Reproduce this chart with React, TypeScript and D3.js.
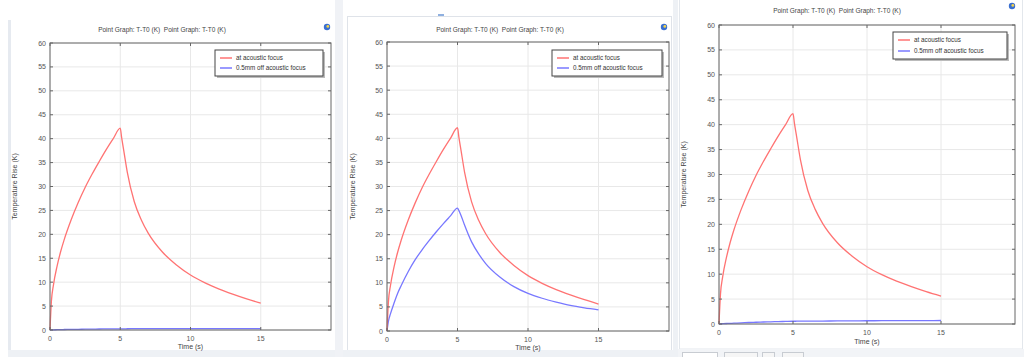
import React from "react";
import * as d3 from "d3";

// Sample times (s) shared by the temperature series
const timeS = [0, 0.1, 0.25, 0.5, 0.75, 1, 1.5, 2, 2.5, 3, 3.5, 4, 4.5, 5, 5.1, 5.25, 5.5, 6, 6.5, 7, 8, 9, 10, 11, 12, 13, 14, 15];

// Temperature rise at the acoustic focus (K)
const atFocus = [0, 6, 9.5, 13.3, 16.3, 18.8, 23, 26.6, 29.8, 32.6, 35.2, 37.7, 40, 42.2, 40.2, 37.5, 33, 26.8, 23, 20.2, 16.3, 13.6, 11.5, 9.9, 8.6, 7.5, 6.5, 5.6];

// Temperature rise 0.5 mm off the focus (K), one run per graph
const offFocusA = [0, 0.02, 0.04, 0.06, 0.08, 0.1, 0.12, 0.15, 0.17, 0.19, 0.21, 0.23, 0.24, 0.25, 0.25, 0.25, 0.26, 0.27, 0.27, 0.28, 0.29, 0.3, 0.3, 0.3, 0.3, 0.3, 0.3, 0.3];
const offFocusB = [0, 2, 3.6, 5.8, 7.8, 9.4, 12.3, 14.8, 16.9, 18.8, 20.6, 22.3, 23.9, 25.5, 25, 24, 22, 18.5, 16, 14, 11.2, 9.2, 7.8, 6.8, 6, 5.3, 4.8, 4.4];
const offFocusC = [0, 0.03, 0.06, 0.1, 0.13, 0.16, 0.22, 0.3, 0.35, 0.4, 0.44, 0.48, 0.52, 0.55, 0.55, 0.56, 0.56, 0.57, 0.58, 0.59, 0.61, 0.63, 0.65, 0.66, 0.67, 0.68, 0.69, 0.7];

const xTicks = [0, 5, 10, 15];
const yTicks = [0, 5, 10, 15, 20, 25, 30, 35, 40, 45, 50, 55, 60];
const legendLabels = ["at acoustic focus", "0.5mm off acoustic focus"];
const titleText = "Point Graph: T-T0 (K)  Point Graph: T-T0 (K)";
const xTitle = "Time (s)";
const yTitle = "Temperature Rise (K)";

const RED = "#ff7373";
const BLUE = "#7878ff";
const FONT = "'Liberation Sans', Arial, sans-serif";

type Layout = {
  x0: number; x1: number; yTop: number; yBot: number;
  titleX: number; titleY: number; iconX: number; iconY: number;
  yLabelX: number; xLabelY: number;
  lx: number; ly: number; lw: number; lh: number;
};

const layouts: Layout[] = [
  { x0: 50, x1: 331, yTop: 43, yBot: 330, titleX: 162, titleY: 32, iconX: 327, iconY: 27, yLabelX: 17, xLabelY: 349, lx: 215, ly: 50, lw: 108, lh: 26 },
  { x0: 387, x1: 669, yTop: 42, yBot: 331, titleX: 500, titleY: 32, iconX: 664, iconY: 27, yLabelX: 355, xLabelY: 350, lx: 552, ly: 50, lw: 110, lh: 26 },
  { x0: 719, x1: 1015, yTop: 25, yBot: 324, titleX: 837, titleY: 13, iconX: 1012, iconY: 6, yLabelX: 686, xLabelY: 344, lx: 893, ly: 32, lw: 114, lh: 27 },
];

const offSeries = [offFocusA, offFocusB, offFocusC];

function Graph({ L, off }: { L: Layout; off: number[] }) {
  const x = d3.scaleLinear().domain([0, 20]).range([L.x0, L.x1]);
  const y = d3.scaleLinear().domain([0, 60]).range([L.yBot, L.yTop]);
  const line = d3
    .line<number>()
    .x((_, i) => x(timeS[i]))
    .y((v) => y(v))
    .curve(d3.curveMonotoneX);
  const tick = 3;
  const midY = (L.yTop + L.yBot) / 2;
  return (
    <g fontFamily={FONT}>
      <rect x={L.x0} y={L.yTop} width={L.x1 - L.x0} height={L.yBot - L.yTop} fill="#fff" />
      {xTicks.map((t) => (
        <line key={"gx" + t} x1={x(t)} x2={x(t)} y1={L.yTop} y2={L.yBot} stroke="#e8e8e8" strokeWidth={1} />
      ))}
      {yTicks.map((t) => (
        <line key={"gy" + t} x1={L.x0} x2={L.x1} y1={y(t)} y2={y(t)} stroke="#e8e8e8" strokeWidth={1} />
      ))}
      <path d={line(off) || ""} fill="none" stroke={BLUE} strokeWidth={1.3} />
      <path d={line(atFocus) || ""} fill="none" stroke={RED} strokeWidth={1.3} />
      <rect x={L.x0} y={L.yTop} width={L.x1 - L.x0} height={L.yBot - L.yTop} fill="none" stroke="#666" strokeWidth={1} />
      {xTicks.map((t) => (
        <g key={"tx" + t}>
          <line x1={x(t)} x2={x(t)} y1={L.yBot} y2={L.yBot - tick} stroke="#666" />
          <line x1={x(t)} x2={x(t)} y1={L.yTop} y2={L.yTop + tick} stroke="#666" />
          <text x={x(t)} y={L.yBot + 11} fontSize={7} fill="#555" textAnchor="middle">{t}</text>
        </g>
      ))}
      {yTicks.map((t) => (
        <g key={"ty" + t}>
          <line x1={L.x0} x2={L.x0 + tick} y1={y(t)} y2={y(t)} stroke="#666" />
          <line x1={L.x1} x2={L.x1 - tick} y1={y(t)} y2={y(t)} stroke="#666" />
          <text x={L.x0 - 4} y={y(t) + 2.5} fontSize={7} fill="#555" textAnchor="end">{t}</text>
        </g>
      ))}
      <text x={L.titleX} y={L.titleY} fontSize={6.5} fill="#444" textAnchor="middle" style={{ whiteSpace: "pre" }}>{titleText}</text>
      <text x={(L.x0 + L.x1) / 2} y={L.xLabelY} fontSize={7} fill="#444" textAnchor="middle">{xTitle}</text>
      <text transform={`translate(${L.yLabelX},${midY}) rotate(-90)`} fontSize={7} fill="#444" textAnchor="middle">{yTitle}</text>
      <g>
        <circle cx={L.iconX} cy={L.iconY} r={3.2} fill="#3a6fd0" />
        <circle cx={L.iconX + 0.8} cy={L.iconY - 0.6} r={1.4} fill="#f2d24a" />
      </g>
      <rect x={L.lx + 2} y={L.ly + 2} width={L.lw} height={L.lh} fill="#bbb" />
      <rect x={L.lx} y={L.ly} width={L.lw} height={L.lh} fill="#fff" stroke="#444" strokeWidth={1} />
      {legendLabels.map((lab, i) => {
        const yy = L.ly + 8 + i * (L.lh - 16);
        return (
          <g key={lab}>
            <line x1={L.lx + 5} x2={L.lx + 17} y1={yy} y2={yy} stroke={i === 0 ? RED : BLUE} strokeWidth={1.5} />
            <text x={L.lx + 21} y={yy + 2.3} fontSize={6.3} fill="#333">{lab}</text>
          </g>
        );
      })}
    </g>
  );
}

export default function App() {
  return (
    <svg width={1024} height={357} style={{ position: "absolute", left: 0, top: 0, display: "block", background: "#fff" }}>
      {/* window chrome around the three graph panels */}
      <rect x={8} y={20} width={3} height={337} fill="#e6eaf0" />
      <rect x={8} y={350} width={327} height={7} fill="#eef1f5" />
      <rect x={335} y={0} width={8} height={357} fill="#f0f2f6" />
      <rect x={347.5} y={16.5} width={324} height={334} fill="none" stroke="#dfe3e9" />
      <rect x={438} y={14} width={6} height={2} fill="#8fb0e0" />
      <rect x={343} y={350} width={332} height={7} fill="#eef1f5" />
      <rect x={673} y={0} width={5} height={357} fill="#eef1f5" />
      <rect x={679.5} y={-1} width={343} height={350} fill="none" stroke="#e3e7ec" />
      <rect x={678} y={349} width={346} height={8} fill="#f2f4f7" />
      <rect x={682.5} y={352.5} width={35} height={6} fill="#fff" stroke="#c8ccd2" />
      <rect x={724.5} y={352.5} width={33} height={6} fill="#f6f6f6" stroke="#c8ccd2" />
      <rect x={762.5} y={352.5} width={12} height={6} fill="#f6f6f6" stroke="#c8ccd2" />
      <rect x={782.5} y={352.5} width={21} height={6} fill="#f6f6f6" stroke="#c8ccd2" />
      {layouts.map((L, i) => (
        <Graph key={i} L={L} off={offSeries[i]} />
      ))}
    </svg>
  );
}
